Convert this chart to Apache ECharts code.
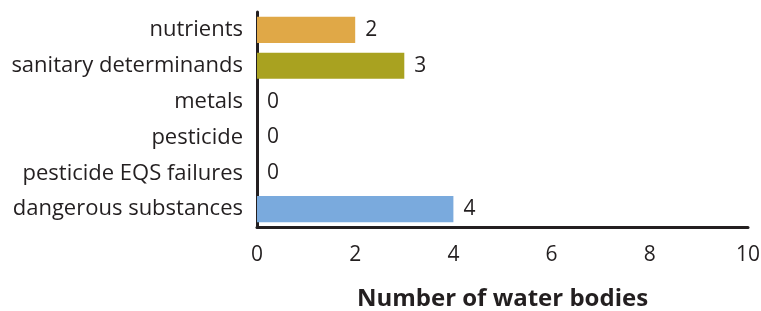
<!DOCTYPE html>
<html>
<head>
<meta charset="utf-8">
<script src="https://cdn.jsdelivr.net/npm/echarts@6/dist/echarts.min.js"></script>
<style>html,body{margin:0;padding:0;background:#fff;}#c{width:761px;height:311px;}</style>
</head>
<body>
<div id="c"></div>
<script>
const categories = ["nutrients", "sanitary determinands", "metals", "pesticide", "pesticide EQS failures", "dangerous substances"];
const values = [2, 3, 0, 0, 0, 4];
const barColors = ["#E0A847", "#A9A220", "#7AAADD", "#7AAADD", "#7AAADD", "#7AAADD"];
const xTicks = [0, 2, 4, 6, 8, 10];
const xTitle = "Number of water bodies";

const FONT = "Open Sans";
const chart = echarts.init(document.getElementById('c'), null, {renderer: 'canvas'});
chart.setOption({
  animation: false,
  backgroundColor: '#fff',
  grid: {left: 257, right: 13, top: 12, bottom: 84, containLabel: false, outerBoundsMode: 'none'},
  xAxis: {
    type: 'value', min: xTicks[0], max: xTicks[xTicks.length-1], interval: 2,
    axisLine: {show: true, lineStyle: {color: '#231f20', width: 3}},
    axisTick: {show: false},
    splitLine: {show: false},
    axisLabel: {color: '#231f20', fontSize: 21, fontFamily: FONT, margin: 18},
    name: xTitle, nameLocation: 'middle', nameGap: 60,
    nameTextStyle: {color: '#231f20', fontSize: 24, fontWeight: 'bold', fontFamily: FONT}
  },
  yAxis: {
    type: 'category', data: categories, inverse: true,
    axisLine: {show: true, lineStyle: {color: '#231f20', width: 3}},
    axisTick: {show: false},
    axisLabel: {color: '#231f20', fontSize: 22, fontFamily: FONT, margin: 14}
  },
  series: [{
    type: 'bar', barCategoryGap: '27%',
    data: values.map((v, i) => ({value: v, itemStyle: {color: barColors[i]}})),
    label: {show: true, position: 'right', distance: 10, color: '#231f20', fontSize: 21, fontFamily: FONT}
  }]
});
</script>
</body>
</html>
